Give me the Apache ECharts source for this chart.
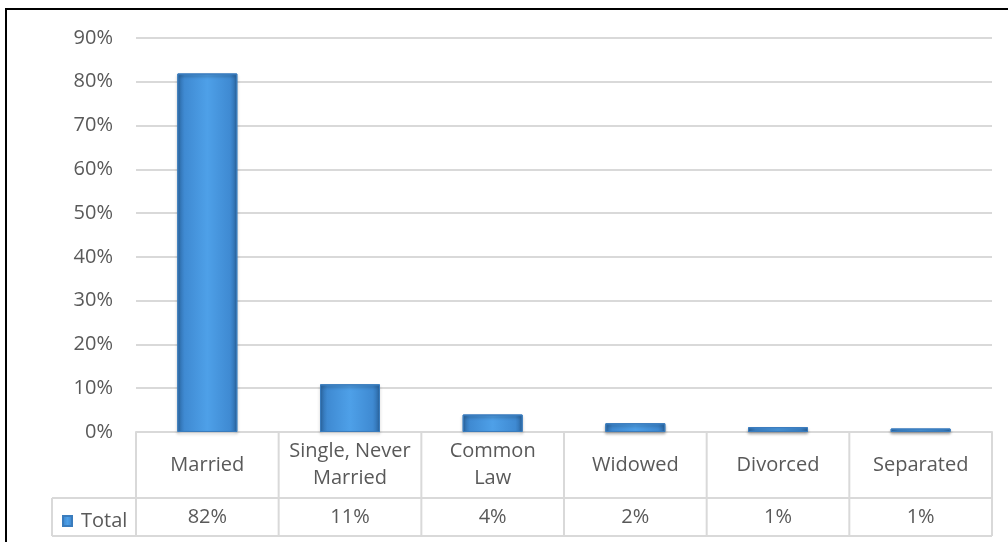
<!DOCTYPE html>
<html>
<head>
<meta charset="utf-8">
<script src="https://cdn.jsdelivr.net/npm/echarts@6/dist/echarts.min.js"></script>
<style>
  html, body { margin: 0; padding: 0; background: #fff; }
  #chart { width: 1008px; height: 542px; }
</style>
</head>
<body>
<div id="chart"></div>
<script>
// data
var categories = ['Married', 'Single, Never\nMarried', 'Common\nLaw', 'Widowed', 'Divorced', 'Separated'];
var values = [81.9, 10.9, 4.0, 2.0, 1.1, 0.8];
var tableLabels = ['82%', '11%', '4%', '2%', '1%', '1%'];
var seriesName = 'Total';

var textColor = '#595959';
var lineColor = '#d9d9d9';
var font = 'Open Sans';

var myChart = echarts.init(document.getElementById('chart'));

var barColor = new echarts.graphic.LinearGradient(0, 0, 1, 0, [
    { offset: 0, color: '#2c69a6' },
    { offset: 0.12, color: '#3f8ad2' },
    { offset: 0.5, color: '#4ea0e8' },
    { offset: 0.88, color: '#3f8ad2' },
    { offset: 1, color: '#2c69a6' }
]);

var option = {
    animation: false,
    grid: { left: 136, right: 16, top: 38, bottom: 110 },
    legend: {
        data: [seriesName],
        left: 57,
        top: 506,
        itemWidth: 9,
        itemHeight: 10,
        icon: 'rect',
        textStyle: { color: textColor, fontSize: 20, fontFamily: font, padding: [0, 0, 0, 4] }
    },
    xAxis: [{
        type: 'category',
        data: categories,
        axisLine: { show: true, lineStyle: { color: lineColor, width: 2 } },
        axisTick: { show: false },
        axisLabel: {
            interval: 0,
            margin: 33,
            verticalAlign: 'middle',
            color: textColor,
            fontSize: 20,
            lineHeight: 27,
            fontFamily: font
        }
    }, {
        type: 'category',
        position: 'bottom',
        data: tableLabels,
        axisLine: { show: false },
        axisTick: { show: false },
        axisLabel: {
            interval: 0,
            margin: 85,
            verticalAlign: 'middle',
            color: textColor,
            fontSize: 20,
            fontFamily: font
        }
    }],
    yAxis: {
        type: 'value',
        min: 0,
        max: 90,
        interval: 10,
        axisLabel: {
            formatter: '{value}%',
            margin: 23,
            color: textColor,
            fontSize: 20,
            fontFamily: font
        },
        splitLine: { lineStyle: { color: lineColor, width: 2 } }
    },
    series: [{
        name: seriesName,
        type: 'bar',
        data: values,
        barWidth: 60,
        itemStyle: {
            color: barColor,
            borderColor: '#3a7cbd',
            borderWidth: 1,
            shadowColor: 'rgba(0,0,0,0.3)',
            shadowBlur: 3,
            shadowOffsetY: 2
        }
    }]
};

myChart.setOption(option);

// table grid lines and outer frame
function drawTable() {
    var c0 = myChart.convertToPixel({ xAxisIndex: 0 }, categories[0]);
    var c1 = myChart.convertToPixel({ xAxisIndex: 0 }, categories[1]);
    var step = c1 - c0;
    var yTop = myChart.convertToPixel({ yAxisIndex: 0 }, 0);
    var yMid = yTop + 66;
    var yBot = yTop + 104;
    var xLeft = 52;
    var xStart = c0 - step / 2;
    var xEnd = xStart + step * categories.length;
    var style = { stroke: lineColor, lineWidth: 2 };
    var els = [];
    for (let i = 0; i <= categories.length; i++) {
        let x = xStart + step * i;
        els.push({ type: 'line', shape: { x1: x, y1: yTop, x2: x, y2: yBot }, style: style });
    }
    els.push({ type: 'line', shape: { x1: xLeft, y1: yMid, x2: xEnd, y2: yMid }, style: style });
    els.push({ type: 'line', shape: { x1: xLeft, y1: yBot, x2: xEnd, y2: yBot }, style: style });
    els.push({ type: 'line', shape: { x1: xLeft, y1: yMid, x2: xLeft, y2: yBot }, style: style });
    els.push({
        type: 'rect',
        shape: { x: 6, y: 9, width: 1020, height: 560 },
        style: { fill: 'none', stroke: '#000', lineWidth: 2 }
    });
    myChart.setOption({ graphic: els });
}
drawTable();
</script>
</body>
</html>
